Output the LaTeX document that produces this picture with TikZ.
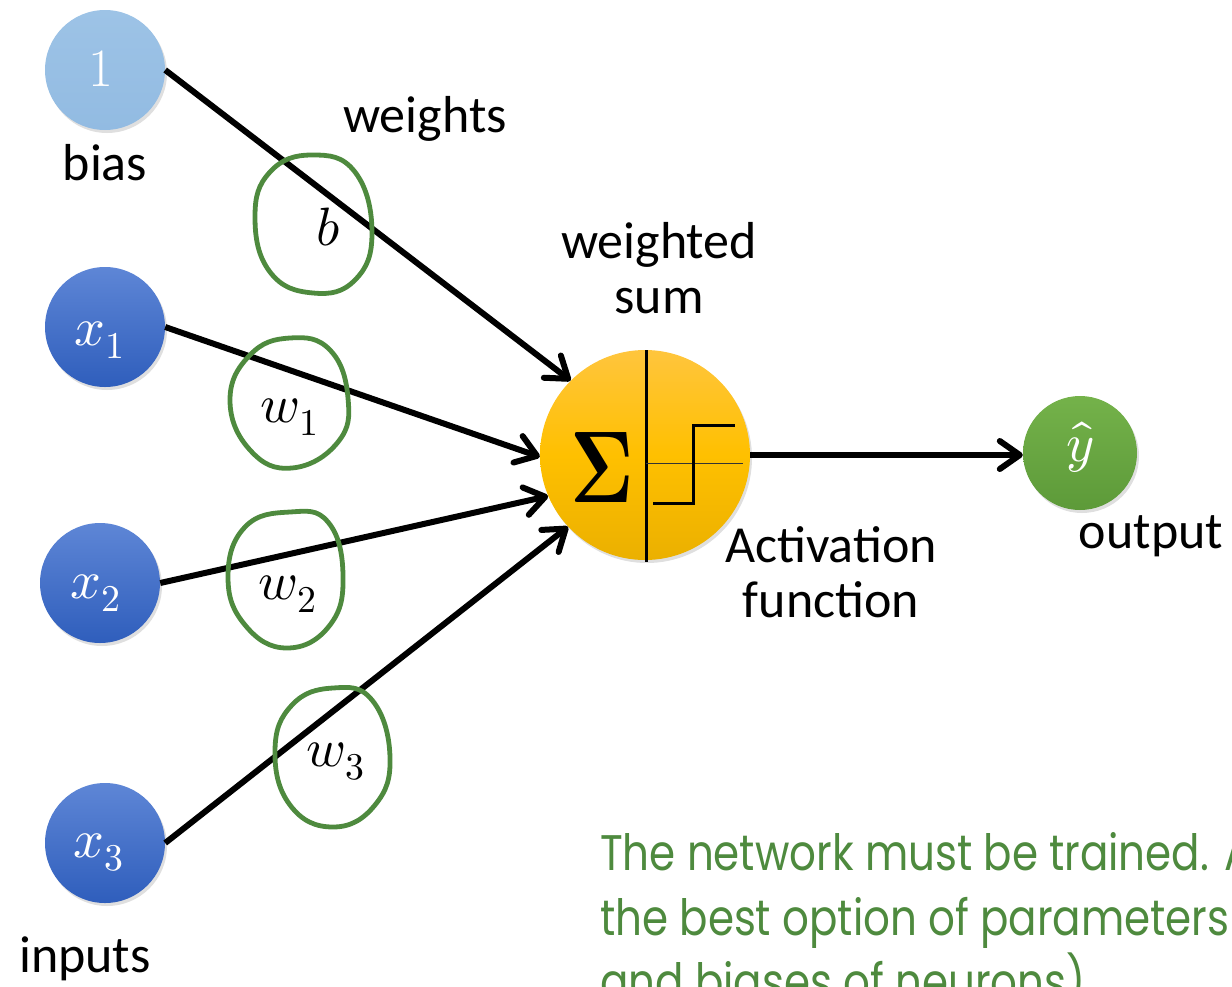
\documentclass[tikz,border=0pt]{standalone}
\usepackage{fontspec}
\usepackage{unicode-math}
\usepackage{graphicx}
\usetikzlibrary{arrows.meta,shadows}
\newfontfamily\labelfont{Carlito}
\newfontfamily\notefont[FakeStretch=0.84]{Poppins}
\definecolor{biasBlue}{HTML}{9DC3E6}
\definecolor{biasBlueDk}{HTML}{92BBE2}
\definecolor{inTop}{HTML}{5E86D6}
\definecolor{inBot}{HTML}{2F5EBC}
\definecolor{outTop}{HTML}{74B24A}
\definecolor{outBot}{HTML}{5D9A39}
\definecolor{sumTop}{HTML}{FFC53D}
\definecolor{sumMid}{HTML}{FFC000}
\definecolor{sumBot}{HTML}{EBB000}
\definecolor{markGreen}{HTML}{4E8A3E}
\definecolor{noteGreen}{HTML}{4E8A3E}
\tikzset{
  neuron/.style={circle, inner sep=0pt, text=white,
    drop shadow={opacity=0.25, shadow xshift=2pt, shadow yshift=-3pt}},
  biasnode/.style={neuron, minimum size=120pt, top color=biasBlue, bottom color=biasBlueDk},
  inputnode/.style={neuron, minimum size=120pt, top color=inTop, bottom color=inBot},
  outnode/.style={neuron, minimum size=114pt, top color=outTop, bottom color=outBot},
  sumnode/.style={neuron, minimum size=210pt, top color=sumTop, bottom color=sumBot, middle color=sumMid},
  conn/.style={line width=6pt, -{Straight Barb[length=20pt,width=28pt,round]}},
  ringmark/.style={draw=markGreen, line width=4.8pt},
  lbl/.style={font=\labelfont\fontsize{52}{60}\selectfont, anchor=base},
  wlbl/.style={font=\fontsize{54}{60}\selectfont, anchor=base, inner sep=0pt},
  note/.style={font=\notefont\fontsize{50}{65}\selectfont, text=noteGreen, anchor=base west, inner sep=0pt}
}
\begin{document}
\begin{tikzpicture}[x=1pt,y=-1pt]
\clip (0,0) rectangle (1232,986);

% neurons
\node[biasnode]  (bias) at (105,70)  {};
\node[inputnode] (x1)   at (105,327) {};
\node[inputnode] (x2)   at (100,583) {};
\node[inputnode] (x3)   at (105,843) {};
\node[sumnode]   (sum)  at (645,455) {};
\node[outnode]   (out)  at (1080,453) {};

% neuron contents
\node[wlbl, text=white] (one) at (101,86)  {1};
\node[wlbl, text=white] (t1)  at (100,345) {$x_1$};
\node[wlbl, text=white] (t2)  at (96,598)  {$x_2$};
\node[wlbl, text=white] (t3)  at (99,857)  {$x_3$};
\node[wlbl, text=white] (yh)  at (1080,461) {$\hat{y}$};

% summation / activation symbol
\draw[line width=3pt] (646,350) coordinate (vtop) -- (646,562) coordinate (vbot);
\node[font=\fontsize{102}{102}\selectfont, inner sep=0pt] (sig) at (602,468) {\scalebox{0.75}[1]{$\symbf{\Sigma}$}};
\draw[line width=0.8pt, black!80] (646,463) -- (743,463);
\draw[line width=3pt] (653,503) -- (693,503) -- (693,425) -- (735,425);

% connectors
\draw[conn] (bias.east) -- (sum.135);
\draw[conn] (x1.east) -- (sum.181);
\draw[conn] (x2.east) -- (sum.203);
\draw[conn] (x3.east) -- (sum.223);
\draw[conn] (sum.east) -- (out.west |- sum.east);

% hand-drawn rings round the weights
\draw[ringmark] plot[smooth cycle, tension=0.75] coordinates
  {(312,155) (355,172) (372,233) (355,280) (313,293) (270,272) (255,217) (270,172)};
\draw[ringmark] plot[smooth cycle, tension=0.75] coordinates
  {(290,338) (330,350) (348,398) (338,442) (292,468) (250,450) (230,400) (250,355)};
\draw[ringmark] plot[smooth cycle, tension=0.75] coordinates
  {(290,512) (328,522) (343,575) (330,625) (287,648) (245,625) (228,577) (245,527)};
\draw[ringmark] plot[smooth cycle, tension=0.75] coordinates
  {(333,688) (372,700) (390,757) (375,805) (333,827) (290,805) (275,750) (292,705)};

% weight symbols
\node[wlbl] (wb) at (328,245) {$b$};
\node[wlbl] (w1) at (290,422) {$w_1$};
\node[wlbl] (w2) at (288,599) {$w_2$};
\node[wlbl] (w3) at (336,766) {$w_3$};

% captions
\node[lbl] (lweights) at (425,132) {weights};
\node[lbl] (lbias)    at (105,180) {bias};
\node[lbl] (lws1)     at (659,258) {weighted};
\node[lbl] (lws2)     at (659,313) {sum};
\node[lbl] (lact1)    at (831,562) {Activation};
\node[lbl] (lact2)    at (831,617) {function};
\node[lbl] (lout)     at (1151,548) {output};
\node[lbl] (lin)      at (85,972)  {inputs};

% note
\node[note] (n1) at (600,870)  {The network must be trained. A};
\node[note] (n2) at (600,935)  {the best option of parameters};
\node[note] (n3) at (600,999)  {and biases of neurons)};
\end{tikzpicture}
\end{document}
